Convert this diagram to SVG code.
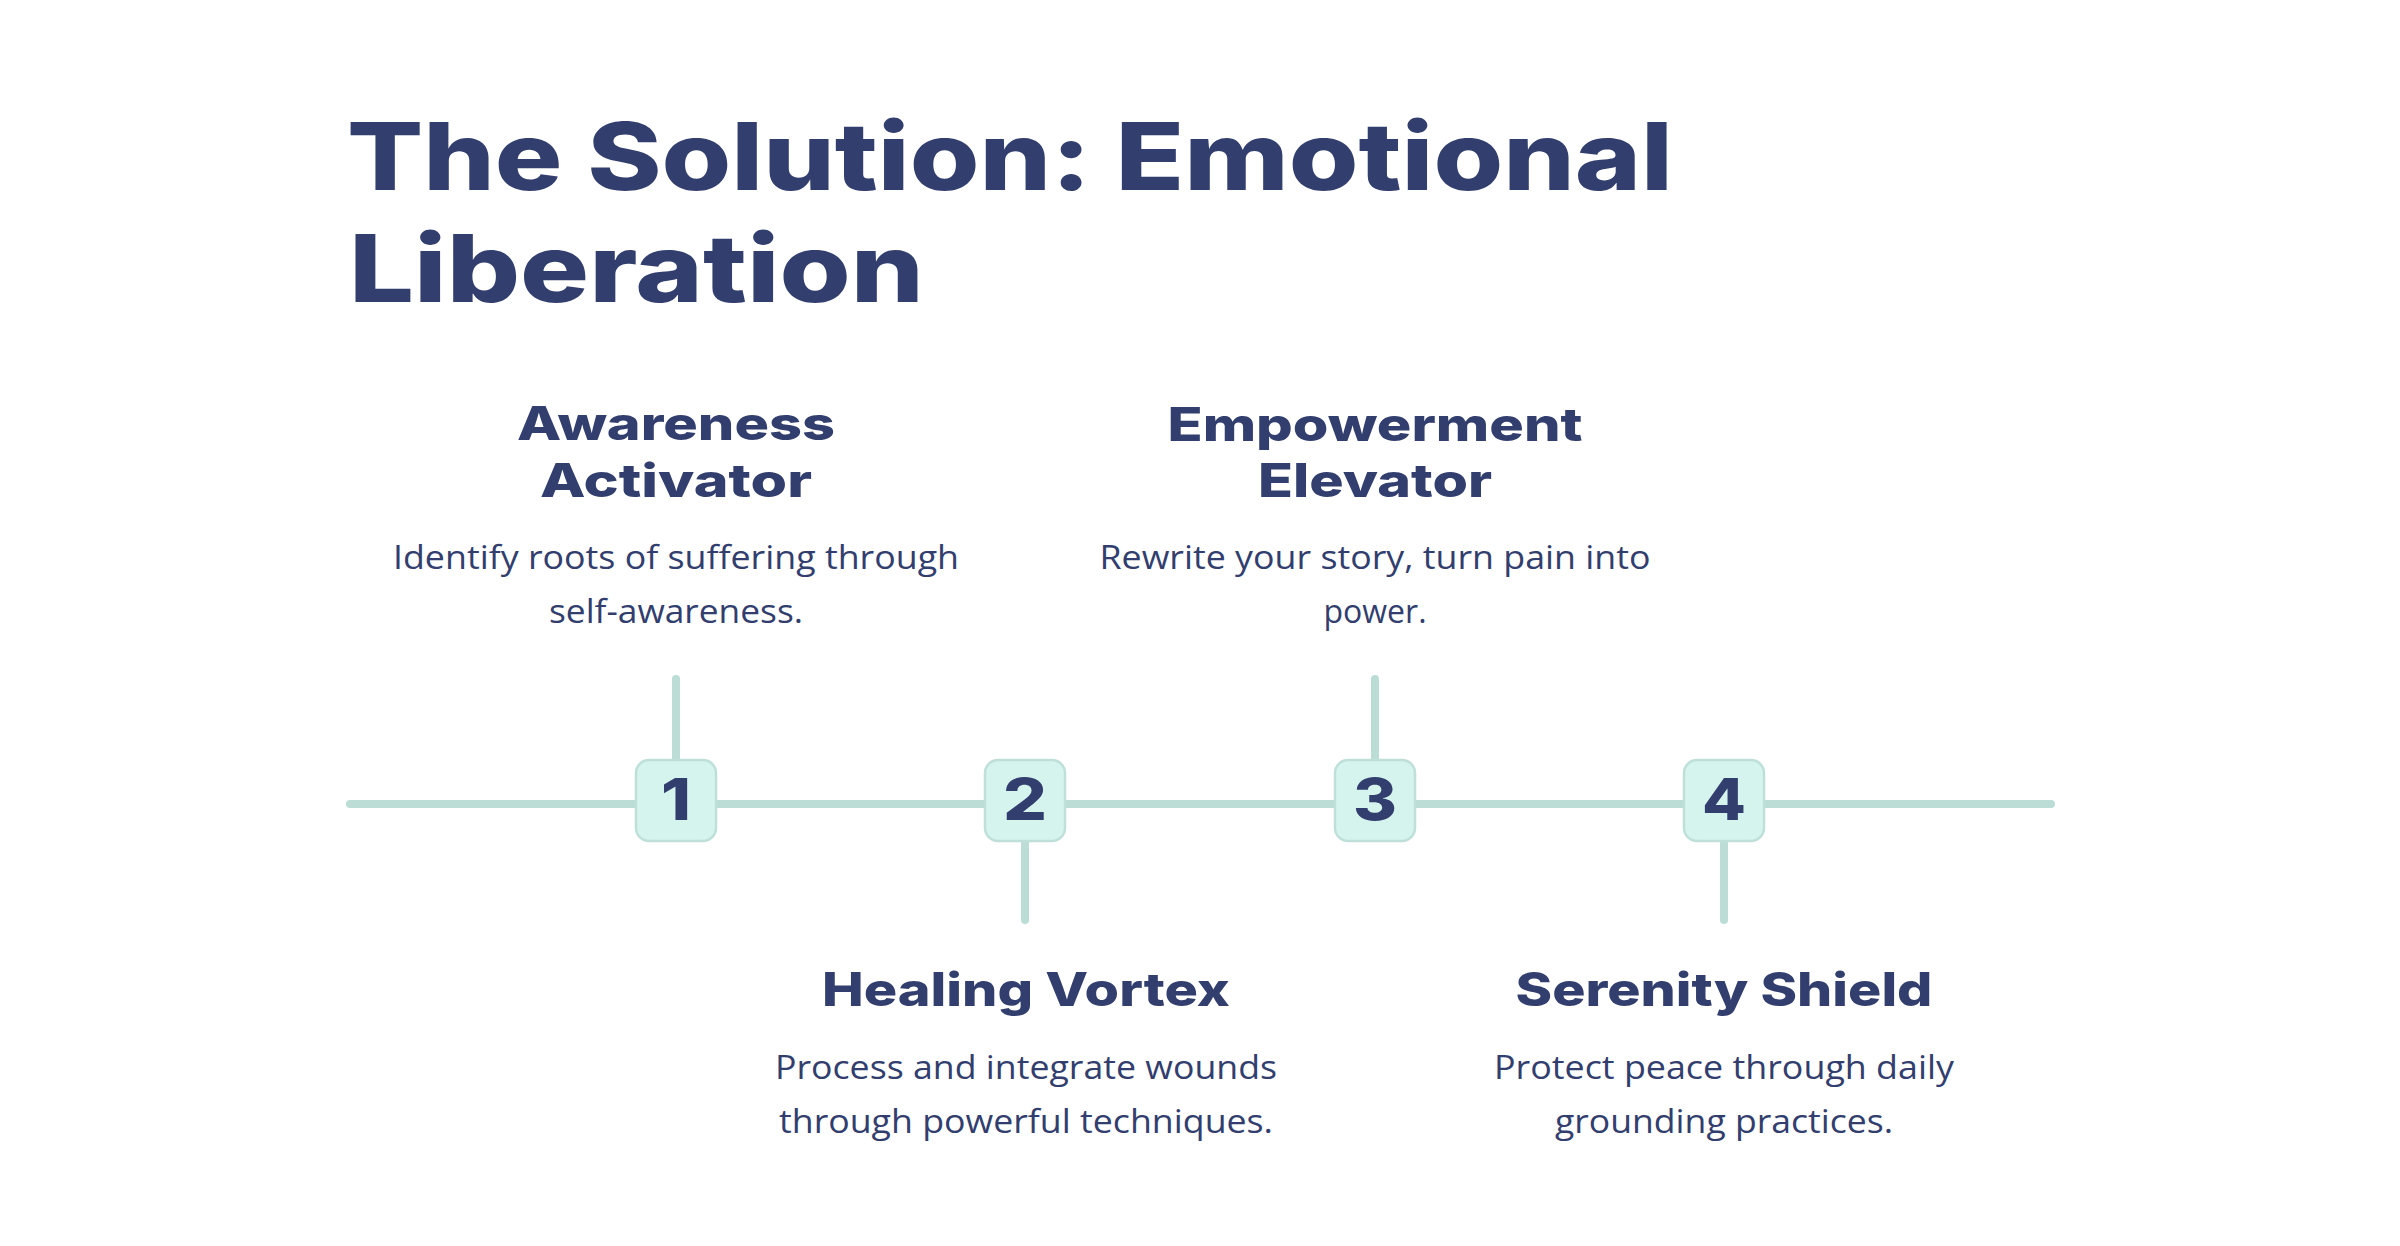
<svg xmlns="http://www.w3.org/2000/svg" width="2400" height="1246" viewBox="0 0 2400 1246">
<style>
.title{font-family:Inter,"DejaVu Sans",sans-serif;font-weight:800;font-size:94px;fill:#323e6e}
.head{font-family:Inter,"DejaVu Sans",sans-serif;font-weight:800;font-size:46px;fill:#323e6e;text-anchor:middle}
.desc{font-family:"Open Sans","Noto Sans",sans-serif;font-weight:400;font-size:32px;fill:#323e6e;text-anchor:middle}
.num{font-family:Inter,"Liberation Sans",sans-serif;font-weight:800;font-size:58px;fill:#323e6e;text-anchor:middle}
.box{fill:#d6f4ee;stroke:#bfe0d9;stroke-width:2.5}
.ln{stroke:#bcdcd6;stroke-width:8;stroke-linecap:round;fill:none}
</style>
<rect width="2400" height="1246" fill="#ffffff"/>
<g id="title">
<text class="title" x="347" y="190" textLength="1326" lengthAdjust="spacingAndGlyphs">The Solution: Emotional</text>
<text class="title" x="349" y="302" textLength="575" lengthAdjust="spacingAndGlyphs">Liberation</text>
</g>
<g id="connectors">
<line class="ln" x1="350" y1="804" x2="2051" y2="804"/>
<line class="ln" x1="676" y1="679" x2="676" y2="800"/>
<line class="ln" x1="1025" y1="800" x2="1025" y2="920"/>
<line class="ln" x1="1375" y1="679" x2="1375" y2="800"/>
<line class="ln" x1="1724" y1="800" x2="1724" y2="920"/>
</g>
<g id="step1">
<rect class="box" x="636" y="760" width="80" height="81" rx="13"/>
<text class="num" x="676" y="820" textLength="30" lengthAdjust="spacingAndGlyphs">1</text>
<text class="head" x="676" y="440" textLength="318" lengthAdjust="spacingAndGlyphs">Awareness</text>
<text class="head" x="676" y="497" textLength="272" lengthAdjust="spacingAndGlyphs">Activator</text>
<text class="desc" x="676" y="569" textLength="566" lengthAdjust="spacingAndGlyphs">Identify roots of suffering through</text>
<text class="desc" x="676" y="623" textLength="254" lengthAdjust="spacingAndGlyphs">self-awareness.</text>
</g>
<g id="step2">
<rect class="box" x="985" y="760" width="80" height="81" rx="13"/>
<text class="num" x="1025" y="820" textLength="44" lengthAdjust="spacingAndGlyphs">2</text>
<text class="head" x="1026" y="1006" textLength="408" lengthAdjust="spacingAndGlyphs">Healing Vortex</text>
<text class="desc" x="1026" y="1079" textLength="502" lengthAdjust="spacingAndGlyphs">Process and integrate wounds</text>
<text class="desc" x="1026" y="1133" textLength="494" lengthAdjust="spacingAndGlyphs">through powerful techniques.</text>
</g>
<g id="step3">
<rect class="box" x="1335" y="760" width="80" height="81" rx="13"/>
<text class="num" x="1375" y="820" textLength="44" lengthAdjust="spacingAndGlyphs">3</text>
<text class="head" x="1375" y="441" textLength="415" lengthAdjust="spacingAndGlyphs">Empowerment</text>
<text class="head" x="1375" y="497" textLength="234" lengthAdjust="spacingAndGlyphs">Elevator</text>
<text class="desc" x="1375" y="569" textLength="551" lengthAdjust="spacingAndGlyphs">Rewrite your story, turn pain into</text>
<text class="desc" x="1375" y="623">power.</text>
</g>
<g id="step4">
<rect class="box" x="1684" y="760" width="80" height="81" rx="13"/>
<text class="num" x="1724" y="820" textLength="44" lengthAdjust="spacingAndGlyphs">4</text>
<text class="head" x="1724" y="1006" textLength="417" lengthAdjust="spacingAndGlyphs">Serenity Shield</text>
<text class="desc" x="1724" y="1079" textLength="460" lengthAdjust="spacingAndGlyphs">Protect peace through daily</text>
<text class="desc" x="1724" y="1133" textLength="338" lengthAdjust="spacingAndGlyphs">grounding practices.</text>
</g>
</svg>
